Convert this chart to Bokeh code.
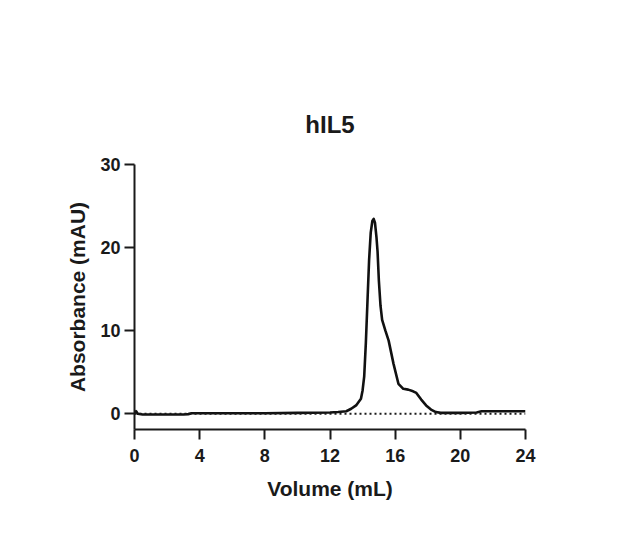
from bokeh.plotting import figure
from bokeh.models import Range1d, FixedTicker, Span
from bokeh.embed import file_html
from bokeh.resources import INLINE

# Data (Volume in mL, Absorbance in mAU)
volume = [0, 0.1, 0.2, 0.5, 1, 2, 3, 3.3, 3.5, 5, 8, 10, 12, 12.5, 13.0, 13.3,
          13.6, 13.9, 14.0, 14.1, 14.2, 14.3, 14.4, 14.5, 14.6, 14.68, 14.76, 14.85,
          14.92, 15.0, 15.1, 15.2, 15.4, 15.6, 15.9, 16.2, 16.5, 16.8, 17.1, 17.3,
          17.6, 17.9, 18.2, 18.5, 18.8, 20, 21, 21.3, 22, 23, 24]
absorbance = [0.0, 0.3, 0.0, -0.1, -0.1, -0.1, -0.1, -0.05, 0.05, 0.05, 0.05, 0.1,
              0.15, 0.2, 0.3, 0.6, 1.0, 1.8, 2.8, 4.5, 8.5, 13.5, 18.5, 21.8, 23.2,
              23.45, 23.0, 21.3, 19.5, 16.0, 13.0, 11.3, 10.0, 8.8, 6.0, 3.6, 3.0,
              2.9, 2.7, 2.5, 1.7, 1.0, 0.5, 0.2, 0.1, 0.1, 0.15, 0.3, 0.3, 0.3, 0.3]
x_ticks = [0, 4, 8, 12, 16, 20, 24]
y_ticks = [0, 10, 20, 30]
title_text = "hIL5"
x_label = "Volume (mL)"
y_label = "Absorbance (mAU)"

FONT = "Liberation Sans"
INK = "#1a1a1a"

p = figure(width=608, height=530, output_backend="svg", toolbar_location=None,
           x_range=Range1d(0, 24), y_range=Range1d(-1.9, 30),
           min_border_left=134, min_border_right=83,
           min_border_top=164, min_border_bottom=101,
           title=title_text)
p.outline_line_color = None
p.grid.visible = False

p.title.align = "center"
p.title.text_font = FONT
p.title.text_font_size = "24px"
p.title.text_font_style = "bold"
p.title.text_color = INK
p.title.standoff = 54

for ax, ticks, lab in ((p.xaxis[0], x_ticks, x_label), (p.yaxis[0], y_ticks, y_label)):
    ax.ticker = FixedTicker(ticks=ticks)
    ax.axis_label = lab
    ax.axis_line_width = 2
    ax.axis_line_color = INK
    ax.major_tick_line_width = 2
    ax.major_tick_line_color = INK
    ax.major_tick_out = 10
    ax.major_tick_in = 0
    ax.minor_tick_line_color = None
    ax.major_label_text_font = FONT
    ax.major_label_text_font_size = "18px"
    ax.major_label_text_font_style = "bold"
    ax.major_label_text_color = INK
    ax.axis_label_text_font = FONT
    ax.axis_label_text_font_size = "21px"
    ax.axis_label_text_font_style = "bold"
    ax.axis_label_text_color = INK

p.xaxis.major_label_standoff = 9
p.xaxis.axis_label_standoff = 12
p.yaxis.major_label_standoff = 4
p.yaxis.axis_label_standoff = 8

zero = Span(location=0, dimension="width", line_color=INK, line_width=2,
            line_dash="2 3")
p.add_layout(zero)

p.line(volume, absorbance, line_color="#111111", line_width=2.6, line_join="round")

open("out.html", "w").write(file_html(p, INLINE))
